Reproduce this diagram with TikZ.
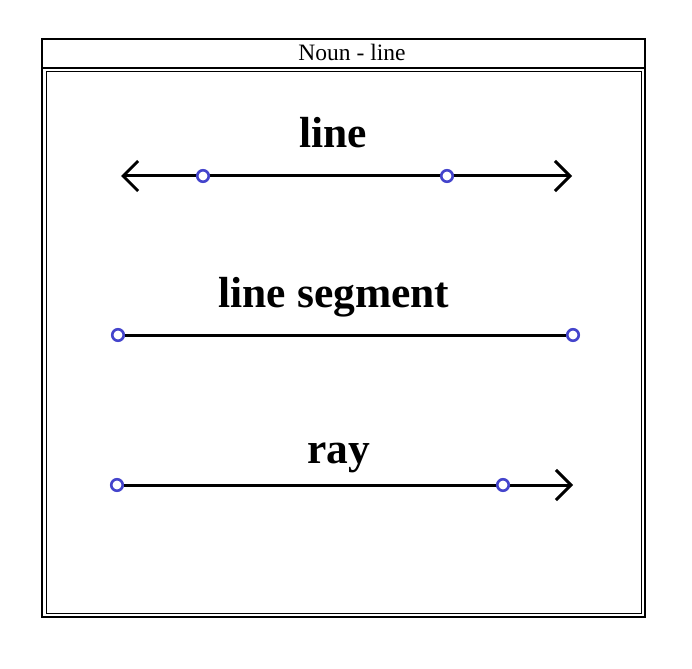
\documentclass[tikz,border=0pt]{standalone}
\usepackage{fontspec}
\setmainfont{Liberation Serif}
\usetikzlibrary{arrows.meta}
\begin{document}
\begin{tikzpicture}[x=1pt,y=-1pt,
  frame/.style={draw=black},
  geoline/.style={draw=black,line width=3pt},
  pt/.style={circle,draw={rgb,255:red,68;green,68;blue,204},line width=2.6pt,fill=white,inner sep=0pt,minimum size=11.5pt},
  lbl/.style={font=\fontsize{43.5}{50}\selectfont\bfseries,anchor=base,inner sep=0pt},
  chev/.style={-{Straight Barb[length=15pt,width=30pt]}}
]
\useasboundingbox (0,0) rectangle (692,668);
\fill[white] (0,0) rectangle (692,668);
% frames
\draw[frame,line width=1.3pt] (42,39) rectangle (645,617);
\draw[frame,line width=2.2pt] (42,68) -- (645,68);
\draw[frame,line width=1pt] (46,72) rectangle (641,613);
\node[font=\fontsize{23.5}{28}\selectfont,anchor=base,inner sep=0pt] (title) at (352,61) {Noun - line};
% line
\node[lbl] (l1) at (333,148) {line};
\coordinate (l1a) at (121,176);
\coordinate (l1b) at (572,176);
\draw[geoline,chev] (333,176) -- (l1b);
\draw[geoline,chev] (333,176) -- (l1a);
\node[pt] (p1) at (203,176) {};
\node[pt] (p2) at (447,176) {};
% segment
\node[lbl] (l2) at (334,307) {line segment};
\node[pt] (s1) at (118,335) {};
\node[pt] (s2) at (573,335) {};
\draw[geoline] (s1) -- (s2);
% ray
\node[lbl] (l3) at (339,463) {ray};
\node[pt] (r1) at (117,485) {};
\coordinate (r3) at (573,485);
\draw[geoline,chev] (r1) -- (r3);
\node[pt] (r2) at (503,485) {};
\end{tikzpicture}
\end{document}
